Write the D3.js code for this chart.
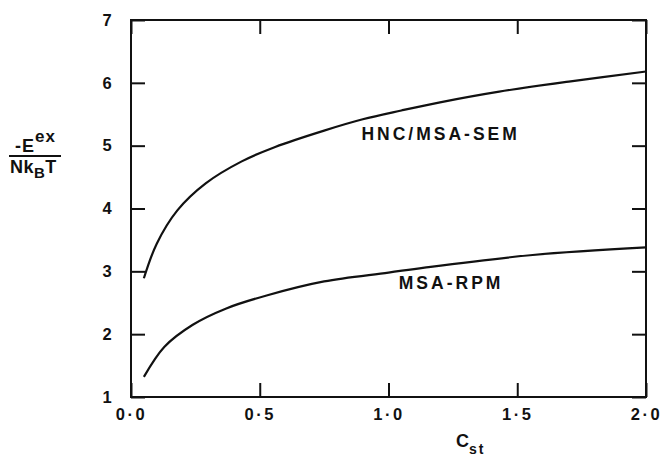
<!DOCTYPE html>
<html>
<head>
<meta charset="utf-8">
<script src="https://cdn.jsdelivr.net/npm/d3@7"></script>
<style>
  body { margin: 0; background: #fff; }
  svg { display: block; font-family: "Liberation Sans", Arial, sans-serif; }
  .tick text { font-weight: bold; }
</style>
</head>
<body>
<div id="chart"></div>
<script>
// values: C_st against -E^ex / N k_B T
var cstSem = [0.05, 0.1, 0.18, 0.29, 0.43, 0.56, 0.75, 0.9, 1.05, 1.2, 1.43, 1.7, 2.0];
var energySem = [2.89, 3.44, 3.97, 4.40, 4.75, 4.98, 5.24, 5.42, 5.56, 5.69, 5.86, 6.02, 6.18];

var cstRpm = [0.05, 0.13, 0.24, 0.37, 0.53, 0.75, 1.0, 1.14, 1.56, 2.0];
var energyRpm = [1.32, 1.80, 2.15, 2.41, 2.62, 2.84, 2.98, 3.06, 3.26, 3.38];

var xTicks = [0, 0.5, 1.0, 1.5, 2.0];
var yTicks = [1, 2, 3, 4, 5, 6, 7];

var curveLabels = [
  { text: 'HNC/MSA-SEM', x: 0.895, y: 5.09 },
  { text: 'MSA-RPM', x: 1.04, y: 2.72 },
];

var width = 663;
var height = 457;

var margins = {
  top: 20,
  right: 17,
  bottom: 60,
  left: 131,
};

var chartWidth = width - margins.left - margins.right;
var chartHeight = height - margins.top - margins.bottom;

var svg = d3.select('#chart')
  .append('svg')
  .attr('width', width)
  .attr('height', height);

var chartElement = svg.append('g')
  .attr('transform', `translate(${margins.left},${margins.top})`);

var xScale = d3.scaleLinear().domain([0, 2]).range([0, chartWidth]);
var yScale = d3.scaleLinear().domain([1, 7]).range([chartHeight, 0]);

var fmtX = d => d3.format('.1f')(d).replace('.', '\u00b7');
var tickLen = 14;

// bottom axis, ticks pointing in
var xAxis = chartElement.append('g')
  .attr('transform', `translate(0,${chartHeight})`)
  .call(d3.axisBottom(xScale).tickValues(xTicks).tickSize(-tickLen).tickSizeOuter(0).tickPadding(17).tickFormat(fmtX));

xAxis.selectAll('text')
  .attr('y', 17)
  .attr('dy', '0.35em')
  .attr('font-size', 16.5)
  .attr('letter-spacing', 2.5)
  .attr('fill', '#111');

// top axis, ticks only
chartElement.append('g')
  .call(d3.axisTop(xScale).tickValues(xTicks).tickSize(-tickLen).tickSizeOuter(0).tickFormat(''));

// left axis
var yAxis = chartElement.append('g')
  .call(d3.axisLeft(yScale).tickValues(yTicks).tickSize(-tickLen).tickSizeOuter(0).tickFormat(d3.format('d')));

yAxis.selectAll('text')
  .attr('x', -24)
  .attr('text-anchor', 'middle')
  .attr('font-size', 16.5)
  .attr('fill', '#111');

// right axis, ticks only
chartElement.append('g')
  .attr('transform', `translate(${chartWidth},0)`)
  .call(d3.axisRight(yScale).tickValues(yTicks).tickSize(-tickLen).tickSizeOuter(0).tickFormat(''));

chartElement.selectAll('.domain').remove();
chartElement.selectAll('.tick line')
  .attr('stroke', '#111')
  .attr('stroke-width', 2);

// frame
chartElement.append('rect')
  .attr('x', 0)
  .attr('y', 0)
  .attr('width', chartWidth)
  .attr('height', chartHeight)
  .attr('fill', 'none')
  .attr('stroke', '#111')
  .attr('stroke-width', 2);

var line = d3.line()
  .x(d => xScale(d[0]))
  .y(d => yScale(d[1]))
  .curve(d3.curveCatmullRom.alpha(0.5));

var series = [
  d3.zip(cstSem, energySem),
  d3.zip(cstRpm, energyRpm),
];

chartElement.selectAll('.curve')
  .data(series)
  .enter()
  .append('path')
  .attr('class', 'curve')
  .attr('d', line)
  .attr('fill', 'none')
  .attr('stroke', '#111')
  .attr('stroke-width', 2.2);

chartElement.selectAll('.curve-label')
  .data(curveLabels)
  .enter()
  .append('text')
  .attr('class', 'curve-label')
  .attr('x', d => xScale(d.x))
  .attr('y', d => yScale(d.y))
  .attr('font-size', 17.5)
  .attr('font-weight', 'bold')
  .attr('letter-spacing', 3)
  .attr('fill', '#111')
  .text(d => d.text);

// x axis title: C_st
var xTitle = svg.append('text')
  .attr('x', 456)
  .attr('y', 447)
  .attr('font-size', 18)
  .attr('font-weight', 'bold')
  .attr('fill', '#111');
xTitle.append('tspan').text('C');
xTitle.append('tspan')
  .attr('dy', 7)
  .attr('font-size', 14)
  .attr('letter-spacing', 2)
  .text('st');

// y axis title: -E^ex / N k_B T
var yTop = svg.append('text')
  .attr('x', 15)
  .attr('y', 152)
  .attr('font-size', 18)
  .attr('font-weight', 'bold')
  .attr('letter-spacing', 1)
  .attr('fill', '#111');
yTop.append('tspan').text('-E');
yTop.append('tspan')
  .attr('dy', -10)
  .attr('font-size', 17)
  .text('ex');

svg.append('line')
  .attr('x1', 9)
  .attr('x2', 61)
  .attr('y1', 156)
  .attr('y2', 156)
  .attr('stroke', '#111')
  .attr('stroke-width', 1.8);

var yBottom = svg.append('text')
  .attr('x', 10)
  .attr('y', 173)
  .attr('font-size', 18)
  .attr('font-weight', 'bold')
  .attr('letter-spacing', 0.5)
  .attr('fill', '#111');
yBottom.append('tspan').text('Nk');
yBottom.append('tspan')
  .attr('dy', 5)
  .attr('font-size', 15)
  .text('B');
yBottom.append('tspan')
  .attr('dy', -5)
  .text('T');
</script>
</body>
</html>
